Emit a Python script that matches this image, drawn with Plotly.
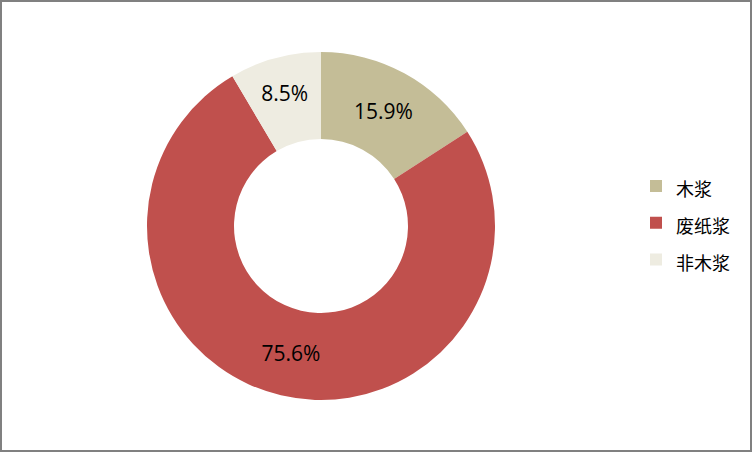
import plotly.graph_objects as go

categories = ["木浆", "废纸浆", "非木浆"]
values = [15.9, 75.6, 8.5]
colors = ["#C4BD97", "#C0504D", "#EEECE1"]

fig = go.Figure()
fig.add_trace(go.Pie(
    labels=["<span style='font-size:18px'>" + c + "</span>" for c in categories],
    values=values,
    hole=0.5,
    sort=False,
    direction="clockwise",
    rotation=0,
    marker=dict(colors=colors, line=dict(width=0)),
    texttemplate="%{value:.1f}%",
    textposition="inside",
    insidetextorientation="horizontal",
    textfont=dict(family="Open Sans, Noto Sans, sans-serif", size=21, color="#000000"),
    domain=dict(x=[(321 - 174) / 752, (321 + 174) / 752], y=[(226 - 174) / 452, (226 + 174) / 452]),
    hoverinfo="label+percent",
))

fig.update_layout(
    width=752, height=452,
    margin=dict(l=0, r=0, t=0, b=0),
    paper_bgcolor="#FFFFFF",
    plot_bgcolor="#FFFFFF",
    showlegend=True,
    legend=dict(
        x=636 / 752, y=0.5 + 3 / 452, xanchor="left", yanchor="middle",
        font=dict(family="Noto Sans CJK SC, sans-serif", size=26, color="#000000"),
        itemwidth=30,
    ),
    shapes=[dict(type="rect", xref="paper", yref="paper", x0=0, x1=1, y0=0, y1=1,
                 line=dict(color="#808080", width=4))],
)

fig.write_html("out.html", config={"displayModeBar": False},
               post_script="document.body.style.margin='0';")
